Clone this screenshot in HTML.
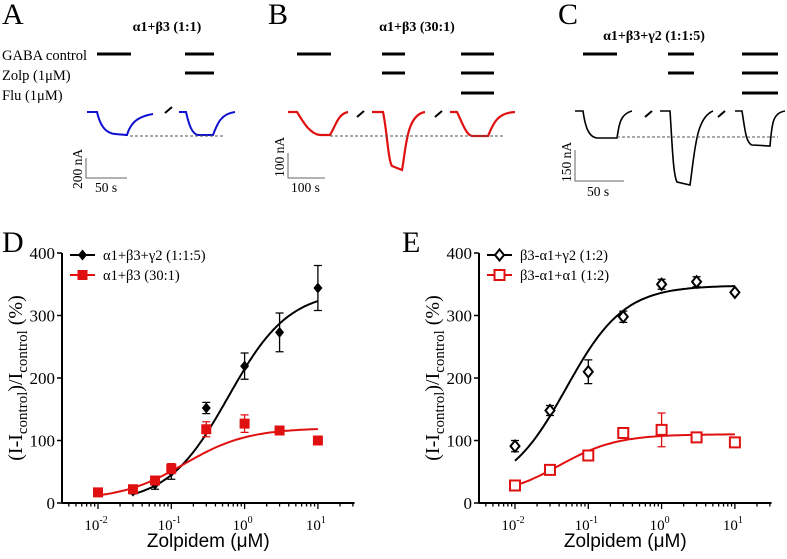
<!DOCTYPE html>
<html><head><meta charset="utf-8">
<style>
body{margin:0;background:#fff;}
svg{display:block;font-family:"Liberation Serif",serif;}
</style></head>
<body>
<svg id="fig" width="787" height="559" viewBox="0 0 787 559">
<g>
<text x="2" y="24" font-size="30">A</text>
<text x="167" y="31" font-size="14" font-weight="bold" text-anchor="middle">α1+β3 (1:1)</text>
<text x="2" y="60" font-size="14.5">GABA control</text>
<text x="2" y="80" font-size="14.5">Zolp (1μM)</text>
<text x="2" y="100" font-size="14.5">Flu (1μM)</text>
<g stroke="#000" stroke-width="3">
<line x1="97" y1="54" x2="131" y2="54"/><line x1="185" y1="54" x2="214" y2="54"/><line x1="185" y1="73" x2="214" y2="73"/>
</g>
<g fill="none" stroke="#1010d0" stroke-width="2">
<path d="M87 112 L97 112 C100 125 105 133 115 134 L127 135 C130 125 135 117 153 114"/>
<path d="M179 112 L186 112 C189 125 192 134 198 135 L213 135 C217 125 220 114 235 112"/>
</g>
<line x1="165" y1="113" x2="172" y2="107" stroke="#000" stroke-width="2"/>
<line x1="130" y1="136" x2="225" y2="136" stroke="#555" stroke-dasharray="3,2"/>
<path d="M86 158 L86 178 L127 178" fill="none" stroke="#666"/>
<text transform="translate(82,189) rotate(-90)" font-size="13.5">200 nA</text>
<text x="95" y="192" font-size="13.5">50 s</text>
</g>
<g>
<text x="268" y="24" font-size="30">B</text>
<text x="417" y="31" font-size="14" font-weight="bold" text-anchor="middle">α1+β3 (30:1)</text>
<g stroke="#000" stroke-width="3">
<line x1="297" y1="54" x2="331" y2="54"/><line x1="382" y1="54" x2="405" y2="54"/><line x1="382" y1="73" x2="405" y2="73"/>
<line x1="461" y1="54" x2="494" y2="54"/><line x1="461" y1="73" x2="494" y2="73"/><line x1="461" y1="93" x2="494" y2="93"/>
</g>
<g fill="none" stroke="#e01010" stroke-width="2.2">
<path d="M288 112 L297 112 C303 122 310 134 320 135 L330 135 C336 125 338 114 348 112"/>
<path d="M372 112 L383 112 C387 130 388 160 392 166 L402 170 C406 150 406 115 425 112"/>
<path d="M450 112 L457 112 C462 122 466 135 472 136 L488 136 C493 125 496 113 515 112"/>
</g>
<line x1="357" y1="117" x2="364" y2="111" stroke="#000" stroke-width="2"/>
<line x1="435" y1="117" x2="442" y2="111" stroke="#000" stroke-width="2"/>
<line x1="330" y1="136" x2="505" y2="136" stroke="#555" stroke-dasharray="3,2"/>
<path d="M288 153 L288 178 L325 178" fill="none" stroke="#666"/>
<text transform="translate(284,177) rotate(-90)" font-size="13.5">100 nA</text>
<text x="291" y="192" font-size="13.5">100 s</text>
</g>
<g>
<text x="558" y="24" font-size="30">C</text>
<text x="654" y="40" font-size="14" font-weight="bold" text-anchor="middle">α1+β3+γ2 (1:1:5)</text>
<g stroke="#000" stroke-width="3">
<line x1="583" y1="54" x2="617" y2="54"/><line x1="668" y1="54" x2="694" y2="54"/><line x1="668" y1="73" x2="694" y2="73"/>
<line x1="742" y1="54" x2="778" y2="54"/><line x1="742" y1="73" x2="778" y2="73"/><line x1="742" y1="93" x2="778" y2="93"/>
</g>
<g fill="none" stroke="#000" stroke-width="1.6">
<path d="M575 111 L583 111 C585 125 588 137 597 138 L617 138 C619 125 620 114 632 111"/>
<path d="M660 111 L670 111 C672 140 673 175 677 182 L690 185 C695 150 696 118 713 111"/>
<path d="M735 111 L742 111 C745 130 746 143 752 145 L770 146 C772 125 772 113 785 111"/>
</g>
<line x1="645" y1="117" x2="652" y2="111" stroke="#000" stroke-width="2"/>
<line x1="718" y1="117" x2="725" y2="111" stroke="#000" stroke-width="2"/>
<line x1="617" y1="137" x2="778" y2="137" stroke="#555" stroke-dasharray="3,2"/>
<path d="M575 150 L575 181 L624 181" fill="none" stroke="#666"/>
<text transform="translate(571,182) rotate(-90)" font-size="13.5">150 nA</text>
<text x="587" y="196" font-size="13.5">50 s</text>
</g>
<text x="2" y="252" font-size="30">D</text>
<text x="402" y="252" font-size="30">E</text>
<g id="chartD"></g>
<g id="chartE"></g>
</svg>
<script>
const yTicks = [0, 100, 200, 300, 400];
const xDecades = [-2, -1, 0, 1];
const dBlackX = [0.03, 0.06, 0.1, 0.3, 1, 3, 10];
const dBlackY = [19, 30, 50, 152, 219, 273, 344];
const dBlackErr = [4, 8, 12, 9, 21, 31, 36];
const dRedX = [0.01, 0.03, 0.06, 0.1, 0.3, 1, 3, 10];
const dRedY = [17, 22, 36, 55, 118, 127, 116, 100];
const dRedErr = [3, 3, 5, 8, 12, 14, 3, 5];
const dBlackFit = [0, 340, 0.6, 1.05];
const dRedFit = [5, 120, 0.15, 1.0];
const eBlackX = [0.01, 0.03, 0.1, 0.3, 1, 3, 10];
const eBlackY = [91, 148, 210, 298, 350, 354, 337];
const eBlackErr = [9, 8, 19, 9, 8, 8, 3];
const eRedX = [0.01, 0.03, 0.1, 0.3, 1, 3, 10];
const eRedY = [28, 53, 76, 112, 117, 105, 97];
const eRedErr = [3, 4, 5, 4, 27, 4, 4];
const eBlackFit = [20, 348, 0.05, 1.1];
const eRedFit = [10, 110, 0.04, 1.1];

const NS = "http://www.w3.org/2000/svg";
function mk(parent, tag, attrs, text) {
  const e = document.createElementNS(NS, tag);
  for (const k in attrs) e.setAttribute(k, attrs[k]);
  if (text !== undefined) e.textContent = text;
  parent.appendChild(e);
  return e;
}
function hill(p, x) { return p[0] + (p[1] - p[0]) / (1 + Math.pow(p[2] / x, p[3])); }

function drawChart(g, ax, x0dec, legend, series) {
  const y0 = 503, yTop = 253;
  const sy = v => y0 - (v / 400) * (y0 - yTop);
  const sx = v => x0dec + (Math.log10(v) + 2) * 73.3;
  const xEnd = sx(Math.pow(10, 1.5));
  let e;
  e = mk(g, 'line', {x1: ax, y1: yTop, x2: ax, y2: y0, stroke: '#000', 'stroke-width': 2});
  
  
  e = mk(g, 'line', {x1: ax, y1: y0, x2: xEnd, y2: y0, stroke: '#000', 'stroke-width': 2});
  
  
  yTicks.forEach(t => {
    mk(g, 'line', {x1: ax - 5, y1: sy(t), x2: ax, y2: sy(t), stroke: '#000', 'stroke-width': 1.5});
    e = mk(g, 'text', {x: ax - 7, y: sy(t) + 6, 'font-size': 17, 'text-anchor': 'end'}, String(t));
    
    
  });
  for (let d = -3; d <= 1; d++) {
    for (let m = 1; m <= 9; m++) {
      const v = m * Math.pow(10, d);
      const px = sx(v);
      if (px < ax || px > xEnd) continue;
      mk(g, 'line', {x1: px, y1: y0, x2: px, y2: y0 + (m === 1 ? 6 : 3.5), stroke: '#000', 'stroke-width': 1.3});
    }
  }
  xDecades.forEach(d => {
    const px = sx(Math.pow(10, d));
    e = mk(g, 'text', {x: px - 2, y: y0 + 27, 'font-size': 15, 'text-anchor': 'middle'});
    
    
    mk(e, 'tspan', {}, '10');
    mk(e, 'tspan', {dy: -7, 'font-size': 10}, String(d));
  });
  e = mk(g, 'text', {x: (ax + xEnd) / 2, y: 547, 'font-size': 19, 'text-anchor': 'middle', 'font-family': '"Liberation Sans", sans-serif'}, 'Zolpidem (μM)');
  
  
  e = mk(g, 'text', {transform: `translate(${ax - 40},${(y0 + yTop) / 2}) rotate(-90)`, 'font-size': 20, 'text-anchor': 'middle'});
  
  
  mk(e, 'tspan', {}, '(I-I');
  mk(e, 'tspan', {dy: 5, 'font-size': 15}, 'control');
  mk(e, 'tspan', {dy: -5}, ')/I');
  mk(e, 'tspan', {dy: 5, 'font-size': 15}, 'control');
  mk(e, 'tspan', {dy: -5}, ' (%)');

  series.forEach((s, si) => {
    const sg = mk(g, 'g', {});
    
    
    let d = '';
    const lo = Math.log10(s.xs[0]), hi = Math.log10(s.xs[s.xs.length - 1]);
    for (let i = 0; i <= 100; i++) {
      const lx = lo + (hi - lo) * i / 100;
      const v = Math.pow(10, lx);
      d += (i ? 'L' : 'M') + sx(v).toFixed(1) + ' ' + sy(hill(s.fit, v)).toFixed(1);
    }
    e = mk(sg, 'path', {d: d, fill: 'none', stroke: s.color, 'stroke-width': 2});
    
    
    s.xs.forEach((xv, i) => {
      const px = sx(xv), py = sy(s.ys[i]);
      const ey1 = sy(s.ys[i] + s.err[i]), ey2 = sy(s.ys[i] - s.err[i]);
      e = mk(sg, 'path', {d: `M${px} ${ey1}L${px} ${ey2}M${px - 4} ${ey1}L${px + 4} ${ey1}M${px - 4} ${ey2}L${px + 4} ${ey2}`, stroke: s.color, 'stroke-width': 1.3, fill: 'none'});
      
      
      e = marker(sg, s.marker, px, py, s.color);
      
      
    });
    const ly = 255 + si * 20;
    const lx0 = ax + 8;
    mk(sg, 'line', {x1: lx0, y1: ly, x2: lx0 + 25, y2: ly, stroke: s.color, 'stroke-width': 2});
    marker(sg, s.marker, lx0 + 12.5, ly, s.color);
    e = mk(sg, 'text', {x: lx0 + 33, y: ly + 5, 'font-size': 14.5}, s.label);
    
    
  });
}
function marker(g, type, x, y, c) {
  if (type === 'diamond') return mk(g, 'path', {d: `M${x} ${y - 5.5}L${x + 4.5} ${y}L${x} ${y + 5.5}L${x - 4.5} ${y}Z`, fill: c});
  if (type === 'odiamond') return mk(g, 'path', {d: `M${x} ${y - 5.5}L${x + 4.5} ${y}L${x} ${y + 5.5}L${x - 4.5} ${y}Z`, fill: '#fff', stroke: c, 'stroke-width': 2});
  if (type === 'square') return mk(g, 'rect', {x: x - 5, y: y - 5, width: 10, height: 10, fill: c});
  return mk(g, 'rect', {x: x - 5, y: y - 5, width: 10, height: 10, fill: '#fff', stroke: c, 'stroke-width': 2});
}
drawChart(document.getElementById('chartD'), 62, 98, true, [
  {name: 'series-a1b3g2', xs: dBlackX, ys: dBlackY, err: dBlackErr, fit: dBlackFit, color: '#000', marker: 'diamond', label: 'α1+β3+γ2 (1:1:5)'},
  {name: 'series-a1b3', xs: dRedX, ys: dRedY, err: dRedErr, fit: dRedFit, color: '#e01010', marker: 'square', label: 'α1+β3 (30:1)'}
]);
drawChart(document.getElementById('chartE'), 479, 515, true, [
  {name: 'series-b3a1-g2', xs: eBlackX, ys: eBlackY, err: eBlackErr, fit: eBlackFit, color: '#000', marker: 'odiamond', label: 'β3-α1+γ2 (1:2)'},
  {name: 'series-b3a1-a1', xs: eRedX, ys: eRedY, err: eRedErr, fit: eRedFit, color: '#e01010', marker: 'osquare', label: 'β3-α1+α1 (1:2)'}
]);
</script>
</body></html>
